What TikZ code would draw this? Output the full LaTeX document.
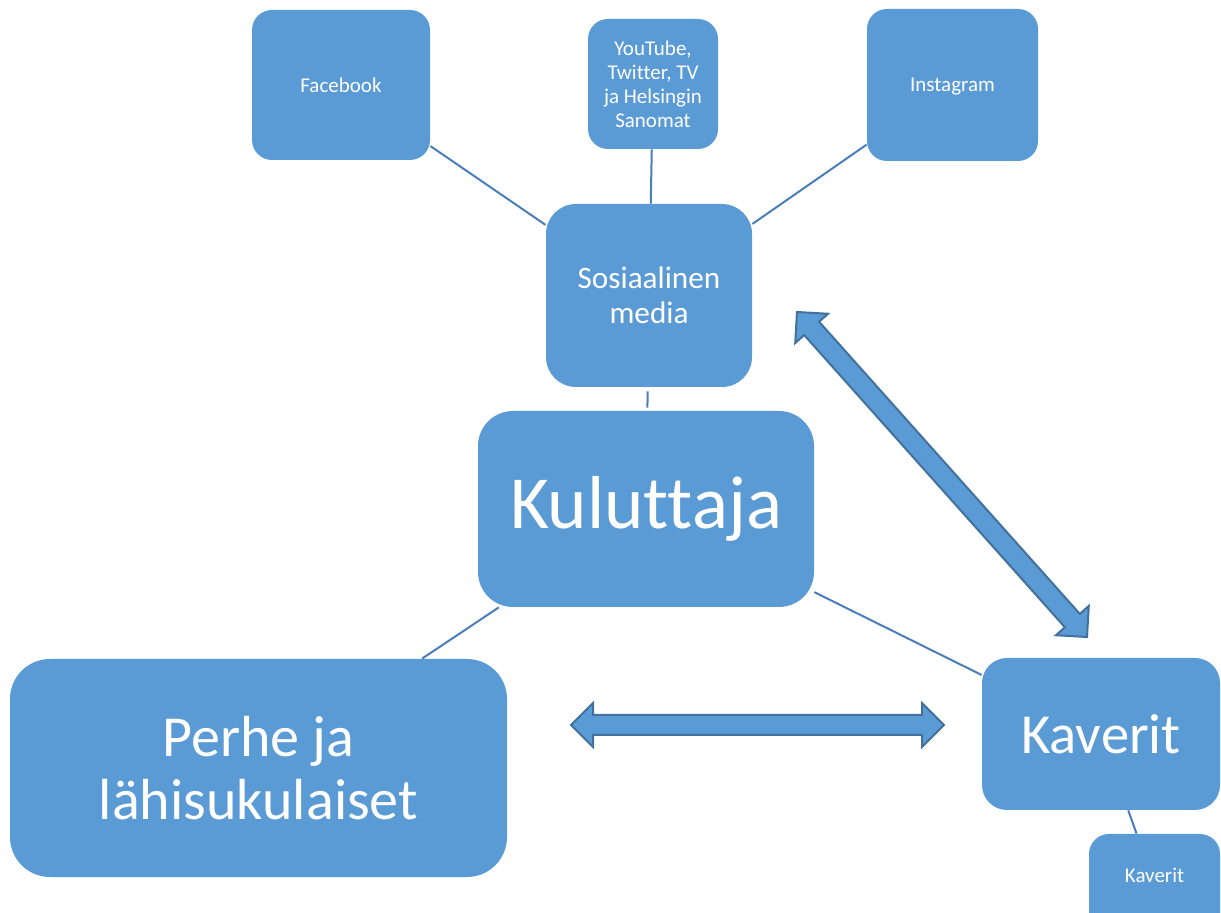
\documentclass[tikz,border=0pt]{standalone}
\usepackage{fontspec}
\setmainfont{Carlito}[Ligatures=NoCommon]
\usetikzlibrary{calc}
\definecolor{boxblue}{HTML}{5B9BD5}
\definecolor{linkblue}{HTML}{4A7EBB}
\definecolor{arrowedge}{HTML}{41719C}
\tikzset{
  box/.style={fill=boxblue, text=white, align=center, inner sep=0pt},
  small/.style={font=\fontsize{10.5}{12}\selectfont},
  conn/.style={draw=linkblue, line width=1pt},
  blockarr/.style={fill=boxblue, draw=arrowedge, line width=1pt, line join=miter}
}
\newcommand\dblarrow[2]{%
  \coordinate (#1h) at ($(#1)!11pt!(#2)$);
  \coordinate (#2h) at ($(#2)!11pt!(#1)$);
  \draw[blockarr] (#1) -- ($(#1h)!11pt!90:(#2)$) -- ($(#1h)!5pt!90:(#2)$)
    -- ($(#2h)!5pt!-90:(#1)$) -- ($(#2h)!11pt!-90:(#1)$) -- (#2)
    -- ($(#2h)!11pt!90:(#1)$) -- ($(#2h)!5pt!90:(#1)$)
    -- ($(#1h)!5pt!-90:(#2)$) -- ($(#1h)!11pt!-90:(#2)$) -- cycle;
}
\begin{document}
\begin{tikzpicture}[x=0.5pt,y=-0.5pt]
\clip (0,0) rectangle (1221,913);
\fill[white] (0,0) rectangle (1221,913);

\node[box, small, rounded corners=10pt, minimum width=89pt, minimum height=75pt] (fb) at (341,85) {Facebook};
\node[box, small, rounded corners=10pt, minimum width=65pt, minimum height=65pt] (yt) at (653,84) {YouTube,\\Twitter, TV\\ja Helsingin\\Sanomat};
\node[box, small, rounded corners=10pt, minimum width=85.5pt, minimum height=76pt, text depth=0pt] (ig) at (952.5,85) {Instagram};
\node[box, rounded corners=15pt, minimum width=103pt, minimum height=91.5pt, font=\fontsize{15.6}{17.5}\selectfont] (sm) at (649,295.5) {Sosiaalinen\\media};
\node[box, rounded corners=17.5pt, minimum width=168pt, minimum height=98pt, font=\fontsize{37.5}{42}\selectfont] (ku) at (646,509) {Kuluttaja};
\node[box, rounded corners=20pt, minimum width=248.5pt, minimum height=109pt, font=\fontsize{29}{31.5}\selectfont] (pe) at (258.5,768) {Perhe ja\\lähisukulaiset};
\node[box, rounded corners=12.5pt, minimum width=119pt, minimum height=76pt, font=\fontsize{28.3}{31}\selectfont] (kv) at (1101,734) {Kaverit};
\node[box, rounded corners=10pt, minimum width=65.5pt, minimum height=50pt,
      label={[text=white, small, yshift=4.5pt]center:Kaverit}] (kv2) at (1154.5,884) {};

\draw[conn] (fb) -- (sm);
\draw[conn] (yt) -- (sm);
\draw[conn] (ig) -- (sm);
\draw[conn, shorten <=2pt, shorten >=1.5pt] (sm) -- (ku);
\draw[conn] (ku) -- (pe);
\draw[conn] (ku) -- (kv);
\draw[conn] (kv) -- (kv2);

\coordinate (hA) at (571,725);
\coordinate (hB) at (944,725);
\coordinate (dA) at (797,312);
\coordinate (dB) at (1087,637);
\dblarrow{hA}{hB}
\dblarrow{dA}{dB}
\end{tikzpicture}
\end{document}
